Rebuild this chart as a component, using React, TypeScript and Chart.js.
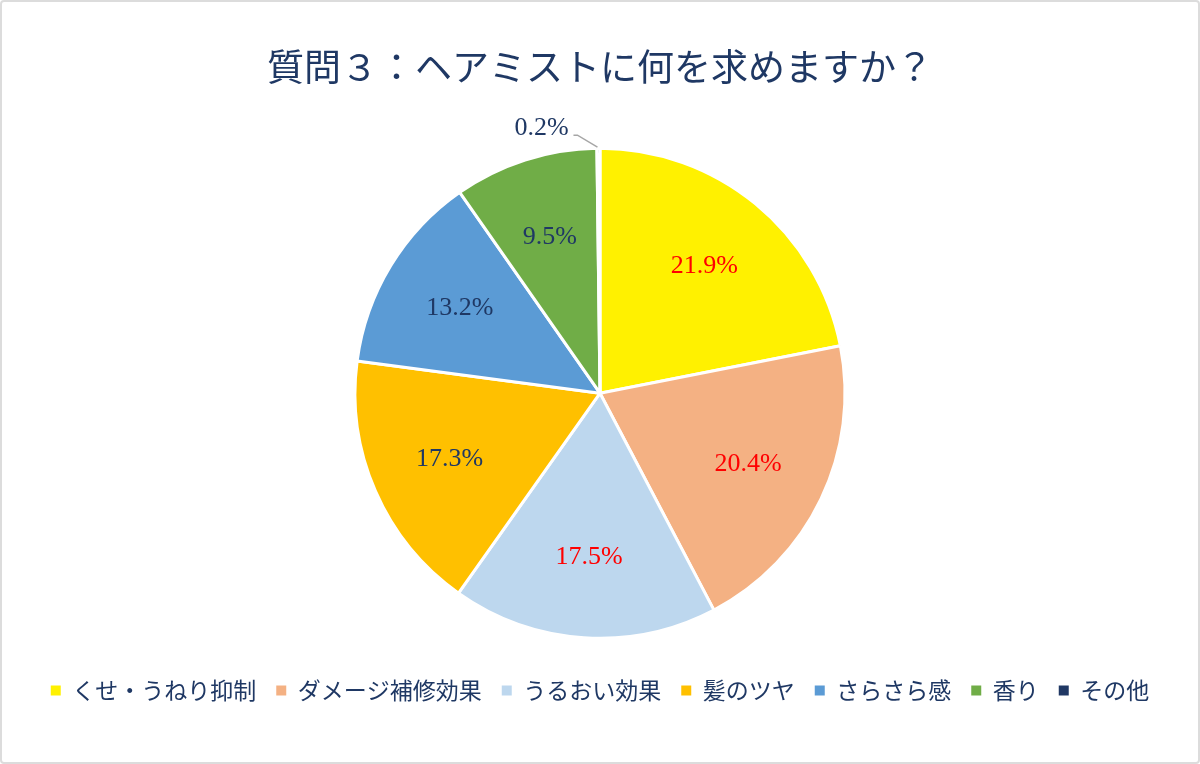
import React, { useEffect, useRef } from 'react';
import { Chart, registerables } from 'chart.js';

Chart.register(...registerables);

const TITLE = '質問３：ヘアミストに何を求めますか？';
const labels = ['くせ・うねり抑制', 'ダメージ補修効果', 'うるおい効果', '髪のツヤ', 'さらさら感', '香り', 'その他'];
const values = [21.9, 20.4, 17.5, 17.3, 13.2, 9.5, 0.2];
const sliceColors = ['#FFF100', '#F4B183', '#BDD7EE', '#FFC000', '#5B9BD5', '#70AD47', '#203864'];
const labelColors = ['#FF0000', '#FF0000', '#FF0000', '#1F3864', '#1F3864', '#1F3864', '#1F3864'];

const NAVY = '#1F3864';
const JP_FONT = '"Noto Sans CJK JP", sans-serif';
const NUM_FONT = '"Liberation Serif", "Times New Roman", serif';

// percentage labels inside the slices, tiny slices get a leader line
const sliceLabels = {
    id: 'sliceLabels',
    afterDatasetsDraw(chart: any) {
        const ctx = chart.ctx;
        const meta = chart.getDatasetMeta(0);
        ctx.save();
        ctx.font = `26px ${NUM_FONT}`;
        ctx.textAlign = 'center';
        ctx.textBaseline = 'middle';
        meta.data.forEach((arc: any, i: number) => {
            const { x, y, startAngle, endAngle, outerRadius } = arc.getProps(['x', 'y', 'startAngle', 'endAngle', 'outerRadius'], true);
            const mid = (startAngle + endAngle) / 2;
            const text = values[i].toFixed(1) + '%';
            if (values[i] < 1) {
                const ex = x + Math.cos(mid) * outerRadius;
                const ey = y + Math.sin(mid) * outerRadius;
                ctx.strokeStyle = '#A6A6A6';
                ctx.lineWidth = 1.5;
                ctx.beginPath();
                ctx.moveTo(ex - 1, ey - 1);
                ctx.lineTo(ex - 21, ey - 13);
                ctx.lineTo(ex - 25, ey - 13);
                ctx.stroke();
                ctx.fillStyle = labelColors[i];
                ctx.fillText(text, ex - 57, ey - 20);
            } else {
                const r = outerRadius * 0.67;
                ctx.fillStyle = labelColors[i];
                ctx.fillText(text, x + Math.cos(mid) * r, y + Math.sin(mid) * r);
            }
        });
        ctx.restore();
    },
};

const App: React.FC = () => {
    const canvasRef = useRef<HTMLCanvasElement>(null);

    useEffect(() => {
        document.body.style.margin = '0';
        const ctx = canvasRef.current?.getContext('2d');
        if (!ctx) return;
        const chart = new Chart(ctx, {
            type: 'pie',
            data: {
                labels,
                datasets: [{
                    data: values,
                    backgroundColor: sliceColors,
                    borderColor: '#FFFFFF',
                    borderWidth: 3,
                    radius: 245,
                }],
            },
            options: {
                responsive: false,
                animation: false,
                layout: { padding: { bottom: 50 } },
                plugins: {
                    title: {
                        display: true,
                        text: TITLE,
                        color: NAVY,
                        font: { family: JP_FONT, size: 37, weight: 'normal' },
                        padding: { top: 43, bottom: 38 },
                    },
                    legend: {
                        position: 'bottom',
                        labels: {
                            color: NAVY,
                            font: { family: JP_FONT, size: 23 },
                            boxWidth: 10,
                            boxHeight: 10,
                            padding: 20,
                            generateLabels: (c: any) => labels.map((l, i) => ({
                                text: l,
                                fillStyle: sliceColors[i],
                                strokeStyle: sliceColors[i],
                                lineWidth: 0,
                                fontColor: NAVY,
                                hidden: !c.getDataVisibility(i),
                                index: i,
                            })),
                        },
                    },
                    tooltip: { enabled: false },
                },
            },
            plugins: [sliceLabels],
        });
        return () => {
            chart.destroy();
        };
    }, []);

    return (
        <div style={{
            width: 1200, height: 764, boxSizing: 'border-box', border: '2px solid #DCDCDC',
            borderRadius: 4, background: '#FFFFFF', overflow: 'hidden',
        }}>
            <canvas ref={canvasRef} width={1196} height={760} style={{ display: 'block' }} />
        </div>
    );
};

export default App;
